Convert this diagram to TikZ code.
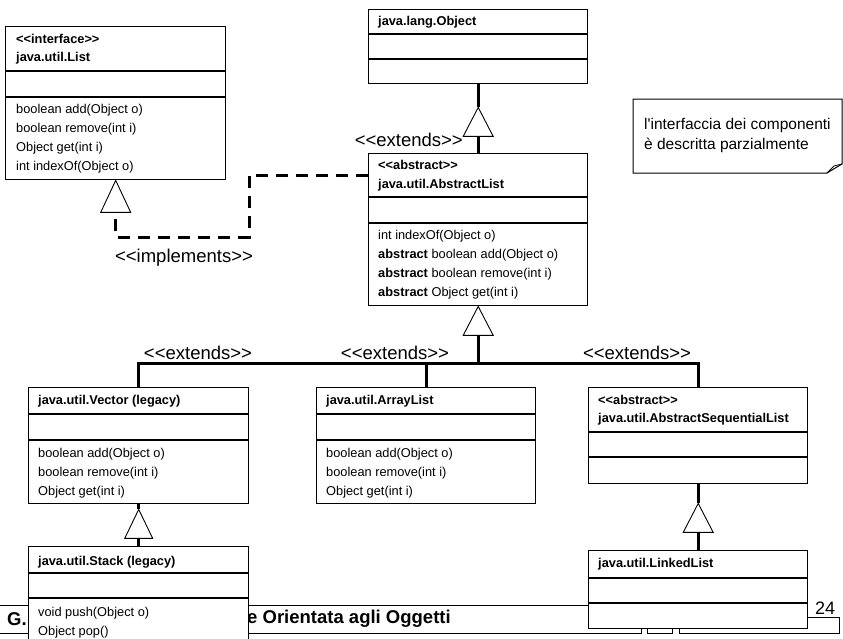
\documentclass[tikz,border=0pt]{standalone}
\usepackage{fontspec}
\setmainfont{Liberation Sans}[Ligatures=TeXOff]
\usetikzlibrary{positioning}
\newcommand{\stereo}[1]{<{}<#1>{}>}
\tikzset{
    classbox/.style={draw, line width=1.4pt, fill=white, inner sep=0pt, anchor=north west},
    divider/.style={line width=1.2pt},
    member/.style={anchor=west, inner sep=0pt, align=left, font=\fontsize{12.8}{19}\selectfont},
    title/.style={anchor=west, inner sep=0pt, align=left, font=\fontsize{12.8}{18.5}\selectfont\bfseries},
    tag/.style={inner sep=0pt, font=\fontsize{18.5}{20}\selectfont},
    gen/.style={line width=3pt},
    head/.style={draw, line width=0.9pt, fill=white},
    impl/.style={line width=3pt, dash pattern=on 12pt off 8pt},
}
\begin{document}
\begin{tikzpicture}[x=1pt, y=-1pt]
    \useasboundingbox (0,0) rectangle (843,638);
    \clip (0,0) rectangle (843,638);
    \draw[line width=0.8pt] (0,605) -- (588,605);
    \draw[line width=0.8pt] (0,633) -- (641,633) -- (641,628);
    \draw[line width=0.8pt] (647,628) -- (647,633) -- (672,633) -- (672,628);
    \draw[line width=0.8pt] (679,628) -- (679,633) -- (839,633) -- (839,617) -- (807,617);
    \node[anchor=west, inner sep=0pt, font=\fontsize{18.5}{20}\selectfont\bfseries] (foot1) at (7,619) {G.};
    \node[anchor=west, inner sep=0pt, font=\fontsize{18.5}{20}\selectfont\bfseries] (foot2) at (247,619) {e Orientata agli Oggetti};
    \node[tag, font=\fontsize{18}{20}\selectfont] (page) at (825,608) {24};

    \node[classbox, minimum width=220pt, minimum height=153pt] (list) at (5,26) {};
    \draw[divider] ([yshift=-45pt]list.north west) -- ([yshift=-45pt]list.north east);
    \draw[divider] ([yshift=-71pt]list.north west) -- ([yshift=-71pt]list.north east);
    \node[title] (listname) at (16,49) {\stereo{interface}\\java.util.List};
    \node[member] (listops) at (16,138.5) {boolean add(Object o)\\boolean remove(int i)\\Object get(int i)\\int indexOf(Object o)};

    \node[classbox, minimum width=219pt, minimum height=74pt] (obj) at (368,9) {};
    \draw[divider] ([yshift=-25pt]obj.north west) -- ([yshift=-25pt]obj.north east);
    \draw[divider] ([yshift=-50pt]obj.north west) -- ([yshift=-50pt]obj.north east);
    \node[title] (objname) at (378,22) {java.lang.Object};

    \node[classbox, minimum width=219pt, minimum height=152pt] (abl) at (368,153) {};
    \draw[divider] ([yshift=-44pt]abl.north west) -- ([yshift=-44pt]abl.north east);
    \draw[divider] ([yshift=-70pt]abl.north west) -- ([yshift=-70pt]abl.north east);
    \node[title] (ablname) at (378,175.5) {\stereo{abstract}\\java.util.AbstractList};
    \node[member] (ablops) at (378,264.5) {int indexOf(Object o)\\\textbf{abstract} boolean add(Object o)\\\textbf{abstract} boolean remove(int i)\\\textbf{abstract} Object get(int i)};

    \node[classbox, minimum width=220pt, minimum height=116pt] (vec) at (28,387) {};
    \draw[divider] ([yshift=-27pt]vec.north west) -- ([yshift=-27pt]vec.north east);
    \draw[divider] ([yshift=-53pt]vec.north west) -- ([yshift=-53pt]vec.north east);
    \node[title] (vecname) at (38,401) {java.util.Vector (legacy)};
    \node[member] (vecops) at (38,473) {boolean add(Object o)\\boolean remove(int i)\\Object get(int i)};

    \node[classbox, minimum width=219pt, minimum height=116pt] (arr) at (316,387) {};
    \draw[divider] ([yshift=-27pt]arr.north west) -- ([yshift=-27pt]arr.north east);
    \draw[divider] ([yshift=-53pt]arr.north west) -- ([yshift=-53pt]arr.north east);
    \node[title] (arrname) at (326,401) {java.util.ArrayList};
    \node[member] (arrops) at (326,473) {boolean add(Object o)\\boolean remove(int i)\\Object get(int i)};

    \node[classbox, minimum width=219pt, minimum height=96pt] (asl) at (588,387) {};
    \draw[divider] ([yshift=-45pt]asl.north west) -- ([yshift=-45pt]asl.north east);
    \draw[divider] ([yshift=-70pt]asl.north west) -- ([yshift=-70pt]asl.north east);
    \node[title] (aslname) at (598,410) {\stereo{abstract}\\java.util.AbstractSequentialList};

    \node[classbox, minimum width=220pt, minimum height=110pt] (stk) at (28,546) {};
    \draw[divider] ([yshift=-27pt]stk.north west) -- ([yshift=-27pt]stk.north east);
    \draw[divider] ([yshift=-52pt]stk.north west) -- ([yshift=-52pt]stk.north east);
    \node[title] (stkname) at (38,562) {java.util.Stack (legacy)};
    \node[member] (stkops) at (38,622.5) {void push(Object o)\\Object pop()};

    \node[classbox, minimum width=219pt, minimum height=78pt] (lkl) at (588,550) {};
    \draw[divider] ([yshift=-28pt]lkl.north west) -- ([yshift=-28pt]lkl.north east);
    \draw[divider] ([yshift=-53pt]lkl.north west) -- ([yshift=-53pt]lkl.north east);
    \node[title] (lklname) at (598,564) {java.util.LinkedList};

    \coordinate (ta) at ([yshift=-23pt]obj.south);
    \draw[gen] (obj.south) -- (ta);
    \draw[gen] ([yshift=-29pt]ta) -- (abl.north);
    \draw[head] (ta) -- ++(-15,29) -- ++(30,0) -- cycle;
    \node[tag, anchor=east] (ext0) at (463,140) {\stereo{extends}};

    \coordinate (tb) at (list.south);
    \draw[impl] ([yshift=-22pt]abl.north west) -- ++(-119,0) -- ++(0,62) -| ([yshift=-32pt]tb);
    \draw[head] (tb) -- ++(-15,32) -- ++(30,0) -- cycle;
    \node[tag] (impl1) at (184,258) {\stereo{implements}};

    \coordinate (tc) at (abl.south);
    \coordinate (bus) at (abl.south |- 0,363);
    \draw[gen] ([yshift=-29pt]tc) -- (bus);
    \draw[gen] (vec.north) |- (bus) -| (asl.north);
    \draw[gen] (arr.north) -- (arr.north |- bus);
    \draw[head] (tc) -- ++(-15,29) -- ++(30,0) -- cycle;
    \node[tag] (ext1) at (198,353) {\stereo{extends}};
    \node[tag] (ext2) at (395,353) {\stereo{extends}};
    \node[tag] (ext3) at (637,353) {\stereo{extends}};

    \coordinate (td) at ([yshift=-5pt]vec.south);
    \draw[gen] (vec.south) -- (td);
    \draw[gen] ([yshift=-29pt]td) -- (stk.north);
    \draw[head] (td) -- ++(-14,29) -- ++(28,0) -- cycle;

    \coordinate (te) at ([yshift=-19pt]asl.south);
    \draw[gen] (asl.south) -- (te);
    \draw[gen] ([yshift=-29pt]te) -- (lkl.north);
    \draw[head] (te) -- ++(-15,29) -- ++(30,0) -- cycle;

    \draw[line width=1pt, fill=white] (633,99) -- (842,99) -- (842,164) -- (827,173) -- (633,173) -- cycle;
    \draw[line width=0.8pt] (827,173) -- (834,166) -- (842,164);
    \node[anchor=west, inner sep=0pt, align=left, font=\fontsize{15.5}{20}\selectfont] (notetext) at (644,135) {l'interfaccia dei componenti\\è descritta parzialmente};
\end{tikzpicture}
\end{document}
